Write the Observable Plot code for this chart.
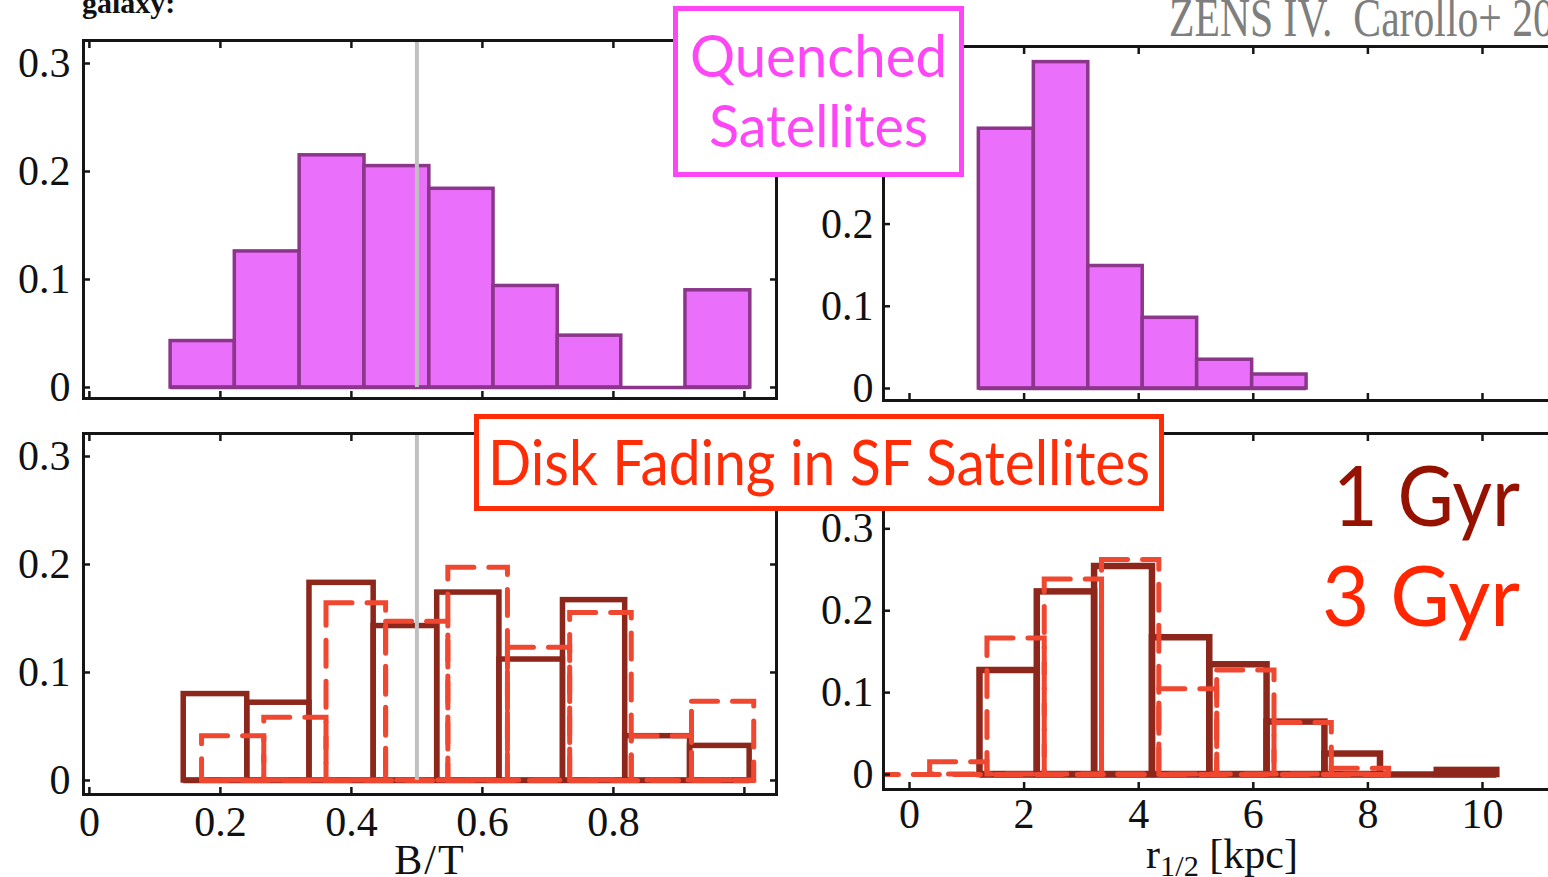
<!DOCTYPE html>
<html>
<head>
<meta charset="utf-8">
<script src="https://cdn.jsdelivr.net/npm/d3@7"></script>
<script src="https://cdn.jsdelivr.net/npm/@observablehq/plot@0.6"></script>
<style>
  html, body { margin: 0; padding: 0; background: #fff; overflow: hidden; }
  #fig { position: relative; width: 1548px; height: 877px; overflow: hidden; background: #fff; }
  #fig > svg { position: absolute; }
  .txt { position: absolute; white-space: pre; line-height: 1em; transform-origin: 0 0; }
  .box { position: absolute; box-sizing: border-box; background: #fff; }
  .ax sub { font-size: 0.72em; vertical-align: -0.28em; line-height: 0; }
</style>
</head>
<body>
<div id="fig"></div>
<script>
// ---- B/T of quenched satellites (fraction per bin)
const btQuenchedEdges = [0.124, 0.222, 0.321, 0.420, 0.519, 0.617, 0.715, 0.812, 0.910, 1.009];
const btQuenchedFrac  = [0.043, 0.126, 0.215, 0.205, 0.184, 0.094, 0.048, 0.000, 0.090];

// ---- r1/2 of quenched satellites
const r12QuenchedEdges = [1.21, 2.17, 3.12, 4.07, 5.02, 5.98, 6.93];
const r12QuenchedFrac  = [0.316, 0.397, 0.149, 0.086, 0.035, 0.017];

// ---- disk-fading model for SF satellites: B/T after 1 Gyr and 3 Gyr
const btFade1Edges = [0.144, 0.241, 0.336, 0.434, 0.531, 0.626, 0.723, 0.818, 0.917, 1.008];
const btFade1Frac  = [0.080, 0.072, 0.183, 0.143, 0.174, 0.112, 0.167, 0.041, 0.032];
const btFade3Edges = [0.172, 0.267, 0.362, 0.453, 0.548, 0.639, 0.734, 0.828, 0.920, 1.015];
const btFade3Frac  = [0.041, 0.058, 0.164, 0.147, 0.197, 0.123, 0.155, 0.041, 0.073];

// ---- disk-fading model: r1/2 after 1 Gyr and 3 Gyr
const r12Fade1Edges = [1.23, 2.23, 3.23, 4.24, 5.24, 6.24, 7.25, 8.22, 9.21, 10.25];
const r12Fade1Frac  = [0.127, 0.223, 0.254, 0.167, 0.134, 0.064, 0.025, 0.000, 0.005];
const r12Fade3Edges = [-0.64, 0.36, 1.36, 2.36, 3.36, 4.36, 5.37, 6.37, 7.37, 8.37];
const r12Fade3Frac  = [0.000, 0.015, 0.166, 0.238, 0.262, 0.104, 0.127, 0.063, 0.007];

// ---- reference B/T and axis ticks
const btDivide = 0.5;
const btTicks = [0, 0.2, 0.4, 0.6, 0.8, 1.0];
const btTickLabels = [0, 0.2, 0.4, 0.6, 0.8];
const r12Ticks = [0, 2, 4, 6, 8, 10];
const fracTicksLeft = [0, 0.1, 0.2, 0.3];
const fracTicksRight = [0, 0.1, 0.2, 0.3, 0.4];
const fracLabelsTopRight = [0, 0.1, 0.2];
const fracLabelsBottomRight = [0, 0.1, 0.2, 0.3];

// ---- annotation text
const quenchedLabel = ["Quenched", "Satellites"];
const fadingLabel = "Disk Fading in SF Satellites";
const ageLabels = ["1 Gyr", "3 Gyr"];
const creditLabel = "ZENS IV.  Carollo+ 2016";
const headerLabel = "galaxy:";

const COL = {
  qFill: "#ea6ffb", qStroke: "#8b368a",
  g1: "#8d271b", g3: "#ef4730",
  divide: "#c0c0c0", axis: "#151515",
  magenta: "#ff46f6", red: "#ff2c08", dark: "#961200", red3: "#ff2600"
};

const fig = document.getElementById("fig");
const bins = (edges, vals) => vals.map((v, i) => ({x1: edges[i], x2: edges[i + 1], v}));
const fracFmt = d => d === 0 ? "0" : d3.format(".1f")(d);

function filledHist(edges, vals) {
  return [
    Plot.rect(bins(edges, vals), {x1: "x1", x2: "x2", y1: 0, y2: "v",
      fill: COL.qFill, stroke: COL.qStroke, strokeWidth: 3.5}),
    Plot.ruleY([0], {x1: edges[0], x2: edges[edges.length - 1], stroke: COL.qStroke, strokeWidth: 3.5})
  ];
}

function outlineHist(edges, vals, stroke, width, dash) {
  const o = {stroke, strokeWidth: width, fill: "none", clip: true,
    strokeDasharray: dash || null, strokeLinecap: dash ? "round" : "butt"};
  return [
    Plot.ruleY([0], {x1: edges[0], x2: edges[edges.length - 1], ...o}),
    Plot.rect(bins(edges, vals), {x1: "x1", x2: "x2", y1: 0, y2: "v", ...o})
  ];
}

function panel({box, frame, xDomain, yDomain, marks, xTicks, xLabels, xFmt, xPad, yTicks, yLabels, yPad}) {
  const tick = {tickSize: -7, tickFormat: () => "", strokeWidth: 2.5, label: null, stroke: COL.axis};
  const svg = Plot.plot({
    width: box.w, height: box.h,
    marginLeft: frame.x1 - box.x, marginRight: box.x + box.w - frame.x2,
    marginTop: frame.y1 - box.y, marginBottom: box.y + box.h - frame.y2,
    x: {domain: xDomain}, y: {domain: yDomain},
    style: {background: "transparent", overflow: "visible", color: "#111",
      fontFamily: "'Liberation Serif', 'DejaVu Serif', serif", fontSize: "42px"},
    marks: [
      ...marks,
      Plot.frame({stroke: COL.axis, strokeWidth: 3}),
      Plot.axisX({ticks: xTicks, anchor: "bottom", ...tick}),
      Plot.axisX({ticks: xTicks, anchor: "top", ...tick}),
      Plot.axisY({ticks: yTicks, anchor: "left", ...tick}),
      Plot.axisY({ticks: yTicks, anchor: "right", ...tick}),
      xLabels ? Plot.axisX({ticks: xLabels, anchor: "bottom", tickSize: 0, tickPadding: xPad, tickFormat: xFmt, label: null}) : null,
      Plot.axisY({ticks: yLabels, anchor: "left", tickSize: 0, tickPadding: yPad, tickFormat: fracFmt, label: null})
    ]
  });
  svg.style.left = box.x + "px";
  svg.style.top = box.y + "px";
  fig.append(svg);
}

const btDomain = [-0.009, 1.049];
const r12Domain = [-0.454, 11.885];
const leftYTop = [-0.0102, 0.3213];
const leftYBot = [-0.013, 0.3213];
const rightYTop = [-0.0146, 0.416];
const rightYBot = [-0.0183, 0.4164];

// top left: B/T, quenched satellites
panel({
  box: {x: 0, y: 0, w: 800, h: 420}, frame: {x1: 83, x2: 776, y1: 40, y2: 398},
  xDomain: btDomain, yDomain: leftYTop,
  marks: [...filledHist(btQuenchedEdges, btQuenchedFrac),
    Plot.ruleX([btDivide], {y1: 0, y2: leftYTop[1], stroke: COL.divide, strokeWidth: 4})],
  xTicks: btTicks, yTicks: fracTicksLeft, yLabels: fracTicksLeft, yPad: 13
});

// bottom left: B/T after disk fading
panel({
  box: {x: 0, y: 420, w: 800, h: 457}, frame: {x1: 83, x2: 776, y1: 433, y2: 794},
  xDomain: btDomain, yDomain: leftYBot,
  marks: [...outlineHist(btFade1Edges, btFade1Frac, COL.g1, 5.5),
    ...outlineHist(btFade3Edges, btFade3Frac, COL.g3, 5, "26,15"),
    Plot.ruleX([btDivide], {y1: 0, y2: leftYBot[1], stroke: COL.divide, strokeWidth: 4})],
  xTicks: btTicks, xLabels: btTickLabels, xFmt: fracFmt, xPad: 12,
  yTicks: fracTicksLeft, yLabels: fracTicksLeft, yPad: 13
});

// top right: r1/2, quenched satellites
panel({
  box: {x: 800, y: 0, w: 800, h: 420}, frame: {x1: 883, x2: 1590, y1: 46, y2: 400},
  xDomain: r12Domain, yDomain: rightYTop,
  marks: filledHist(r12QuenchedEdges, r12QuenchedFrac),
  xTicks: r12Ticks, yTicks: fracTicksRight, yLabels: fracLabelsTopRight, yPad: 10
});

// bottom right: r1/2 after disk fading
panel({
  box: {x: 800, y: 420, w: 800, h: 457}, frame: {x1: 883, x2: 1590, y1: 433, y2: 789},
  xDomain: r12Domain, yDomain: rightYBot,
  marks: [...outlineHist(r12Fade1Edges, r12Fade1Frac, COL.g1, 6.5),
    ...outlineHist(r12Fade3Edges, r12Fade3Frac, COL.g3, 5, "26,15")],
  xTicks: r12Ticks, xLabels: r12Ticks, xFmt: d => String(d), xPad: 9,
  yTicks: fracTicksRight, yLabels: fracLabelsBottomRight, yPad: 10
});

// ---- text placed by its baseline; ascent offset for a 1em line box
const ASC = {lato: 0.887, serif: 0.8375};
function measure(html, style) {
  const m = document.createElement("div");
  m.className = "txt";
  m.innerHTML = html;
  Object.assign(m.style, style, {visibility: "hidden"});
  fig.append(m);
  const w = m.getBoundingClientRect().width;
  m.remove();
  return w;
}
function addText(html, {x, baseline, size, family, face = "lato", color, weight = 400, spacing = 0,
                        anchor = "start", fitW = null, fitPrefix = null, cls = ""}) {
  const style = {fontSize: size + "px", fontFamily: family, fontWeight: weight, letterSpacing: spacing + "px"};
  const el = document.createElement("div");
  el.className = "txt " + cls;
  el.innerHTML = html;
  Object.assign(el.style, style, {color, top: (baseline - ASC[face] * size) + "px"});
  fig.append(el);
  const w = el.getBoundingClientRect().width;
  const ref = fitPrefix ? measure(fitPrefix, style) : w;
  const s = fitW ? fitW / ref : 1;
  el.style.left = (x + (anchor === "middle" ? -w * s / 2 : 0)) + "px";
  el.style.transform = `scaleX(${s})`;
  return el;
}
function addBox(x, y, w, h, border, color) {
  const b = document.createElement("div");
  b.className = "box";
  Object.assign(b.style, {left: x + "px", top: y + "px", width: w + "px", height: h + "px",
    border: `${border}px solid ${color}`});
  fig.append(b);
}

const LATO = "Lato, 'Noto Sans', sans-serif";
const SERIF = "'Liberation Serif', 'DejaVu Serif', serif";

// axis titles
addText("B/T", {x: 430, baseline: 874, size: 42, family: SERIF, face: "serif", color: "#111", spacing: 2, anchor: "middle", cls: "ax"});
addText("r<sub>1/2</sub> [kpc]", {x: 1222, baseline: 868, size: 42, family: SERIF, face: "serif", color: "#111", anchor: "middle", cls: "ax"});

// header fragments
addText(headerLabel, {x: 82, baseline: 13, size: 30, family: SERIF, face: "serif", color: "#111", weight: 700});
addText(creditLabel, {x: 1169, baseline: 36, size: 54, family: SERIF, face: "serif", color: "#7e7e7e",
  fitW: 364, fitPrefix: creditLabel.slice(0, creditLabel.length - 3)});

// boxed annotations
addBox(673, 6, 291, 171, 5, COL.magenta);
addText(quenchedLabel[0], {x: 818.5, baseline: 77, size: 58, family: LATO, color: COL.magenta, anchor: "middle", fitW: 257});
addText(quenchedLabel[1], {x: 818.5, baseline: 147, size: 58, family: LATO, color: COL.magenta, anchor: "middle", fitW: 219});

addBox(474, 414, 690, 97, 5, COL.red);
addText(fadingLabel, {x: 819, baseline: 485, size: 62, family: LATO, color: COL.red, anchor: "middle", fitW: 662});

addText(ageLabels[0], {x: 1333, baseline: 527, size: 83, family: LATO, color: COL.dark, fitW: 187});
addText(ageLabels[1], {x: 1322, baseline: 627, size: 83, family: LATO, color: COL.red3, fitW: 198});
</script>
</body>
</html>
